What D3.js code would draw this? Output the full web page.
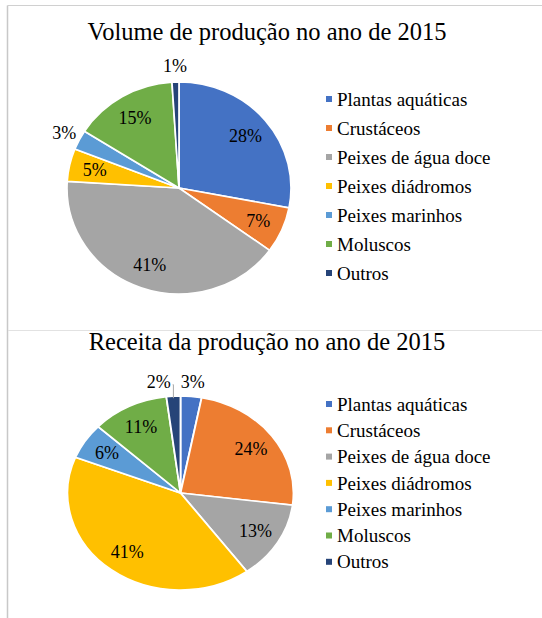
<!DOCTYPE html>
<html>
<head>
<meta charset="utf-8">
<script src="https://cdn.jsdelivr.net/npm/d3@7"></script>
<style>
  body { margin: 0; background: #fff; }
</style>
</head>
<body>
<svg id="chart" width="542" height="618"></svg>
<script>
const categories = ["Plantas aquáticas", "Crustáceos", "Peixes de água doce", "Peixes diádromos", "Peixes marinhos", "Moluscos", "Outros"];
const volumeValues = [28, 7, 41, 5, 3, 15, 1];
const revenueValues = [3, 24, 13, 41, 6, 11, 2];
const colors = ["#4472C4", "#ED7D31", "#A5A5A5", "#FFC000", "#5B9BD5", "#70AD47", "#264478"];
const titles = ["Volume de produção no ano de 2015", "Receita da produção no ano de 2015"];

const FONT = "'Liberation Serif', 'DejaVu Serif', serif";
const svg = d3.select("#chart").style("font-family", FONT);
const color = d3.scaleOrdinal().domain(categories).range(colors);

// moldura
svg.append("line").attr("x1", 7.5).attr("x2", 542).attr("y1", 5.5).attr("y2", 5.5).attr("stroke", "#d0d0d0");
svg.append("line").attr("x1", 7.5).attr("x2", 7.5).attr("y1", 5.5).attr("y2", 618).attr("stroke", "#c8c8c8").attr("stroke-width", 1.5);
svg.append("line").attr("x1", 8).attr("x2", 542).attr("y1", 330.5).attr("y2", 330.5).attr("stroke", "#e2e2e2");

const charts = [
  { values: volumeValues, title: titles[0], titleY: 40, cx: 179, cy: 188, rx: 112, ry: 106, legendY: 99, legendStep: 29 },
  { values: revenueValues, title: titles[1], titleY: 350, cx: 180.5, cy: 493, rx: 113, ry: 97, legendY: 404, legendStep: 26.3 }
];

charts.forEach(drawPie);

function drawPie(c) {
  const g = svg.append("g");

  g.append("text")
    .attr("x", 267).attr("y", c.titleY)
    .attr("text-anchor", "middle")
    .attr("font-family", FONT)
    .style("font-size", "24.5px")
    .text(c.title);

  const data = categories.map((name, i) => ({ name, value: c.values[i] }));
  const arcs = d3.pie().sort(null).value(d => d.value)(data);
  const arc = d3.arc().innerRadius(0).outerRadius(c.ry);
  const sx = c.rx / c.ry;

  g.append("g")
    .attr("transform", `translate(${c.cx},${c.cy}) scale(${sx},1)`)
    .selectAll("path")
    .data(arcs)
    .join("path")
    .attr("d", arc)
    .attr("fill", d => color(d.data.name))
    .attr("stroke", "#fff")
    .attr("stroke-width", 1.6);

  // posição dos rótulos
  const pos = (d, k) => {
    const a = (d.startAngle + d.endAngle) / 2;
    return [c.cx + Math.sin(a) * c.rx * k, c.cy - Math.cos(a) * c.ry * k];
  };

  const labels = arcs.map(d => {
    const outside = d.data.value < 4;
    const [x, y] = pos(d, outside ? 1.15 : 0.77);
    return { d, outside, x, y, x0: x };
  });

  // evitar sobreposição entre rótulos externos
  const outs = labels.filter(l => l.outside).sort((a, b) => a.x - b.x);
  for (let i = 1; i < outs.length; i++) {
    const a = outs[i - 1], b = outs[i];
    if (Math.abs(a.y - b.y) < 16 && b.x - a.x < 34) {
      a.x = b.x - 34;
    }
  }

  labels.filter(l => l.outside && l.x0 - l.x > 4).forEach(l => {
    const a = (l.d.startAngle + l.d.endAngle) / 2;
    const ex = c.cx + Math.sin(a) * c.rx;
    const ey = c.cy - Math.cos(a) * c.ry;
    g.append("path")
      .attr("d", `M${l.x + 14},${l.y + 3}H${ex}V${ey + 2}`)
      .attr("fill", "none")
      .attr("stroke", "#a6a6a6")
      .attr("stroke-width", 1);
  });

  g.selectAll("text.lbl")
    .data(labels)
    .join("text")
    .attr("class", "lbl")
    .attr("x", l => l.x)
    .attr("y", l => l.y)
    .attr("dy", "0.35em")
    .attr("text-anchor", "middle")
    .attr("font-family", FONT)
    .style("font-size", "18px")
    .text(l => l.d.data.value + "%");

  const legend = g.selectAll("g.leg")
    .data(categories)
    .join("g")
    .attr("class", "leg")
    .attr("transform", (d, i) => `translate(326,${c.legendY + i * c.legendStep})`);

  legend.append("rect")
    .attr("x", 0).attr("y", -3)
    .attr("width", 6).attr("height", 6)
    .attr("fill", d => color(d));

  legend.append("text")
    .attr("x", 11)
    .attr("dy", "0.35em")
    .attr("font-family", FONT)
    .style("font-size", "19px")
    .text(d => d);
}
</script>
</body>
</html>
